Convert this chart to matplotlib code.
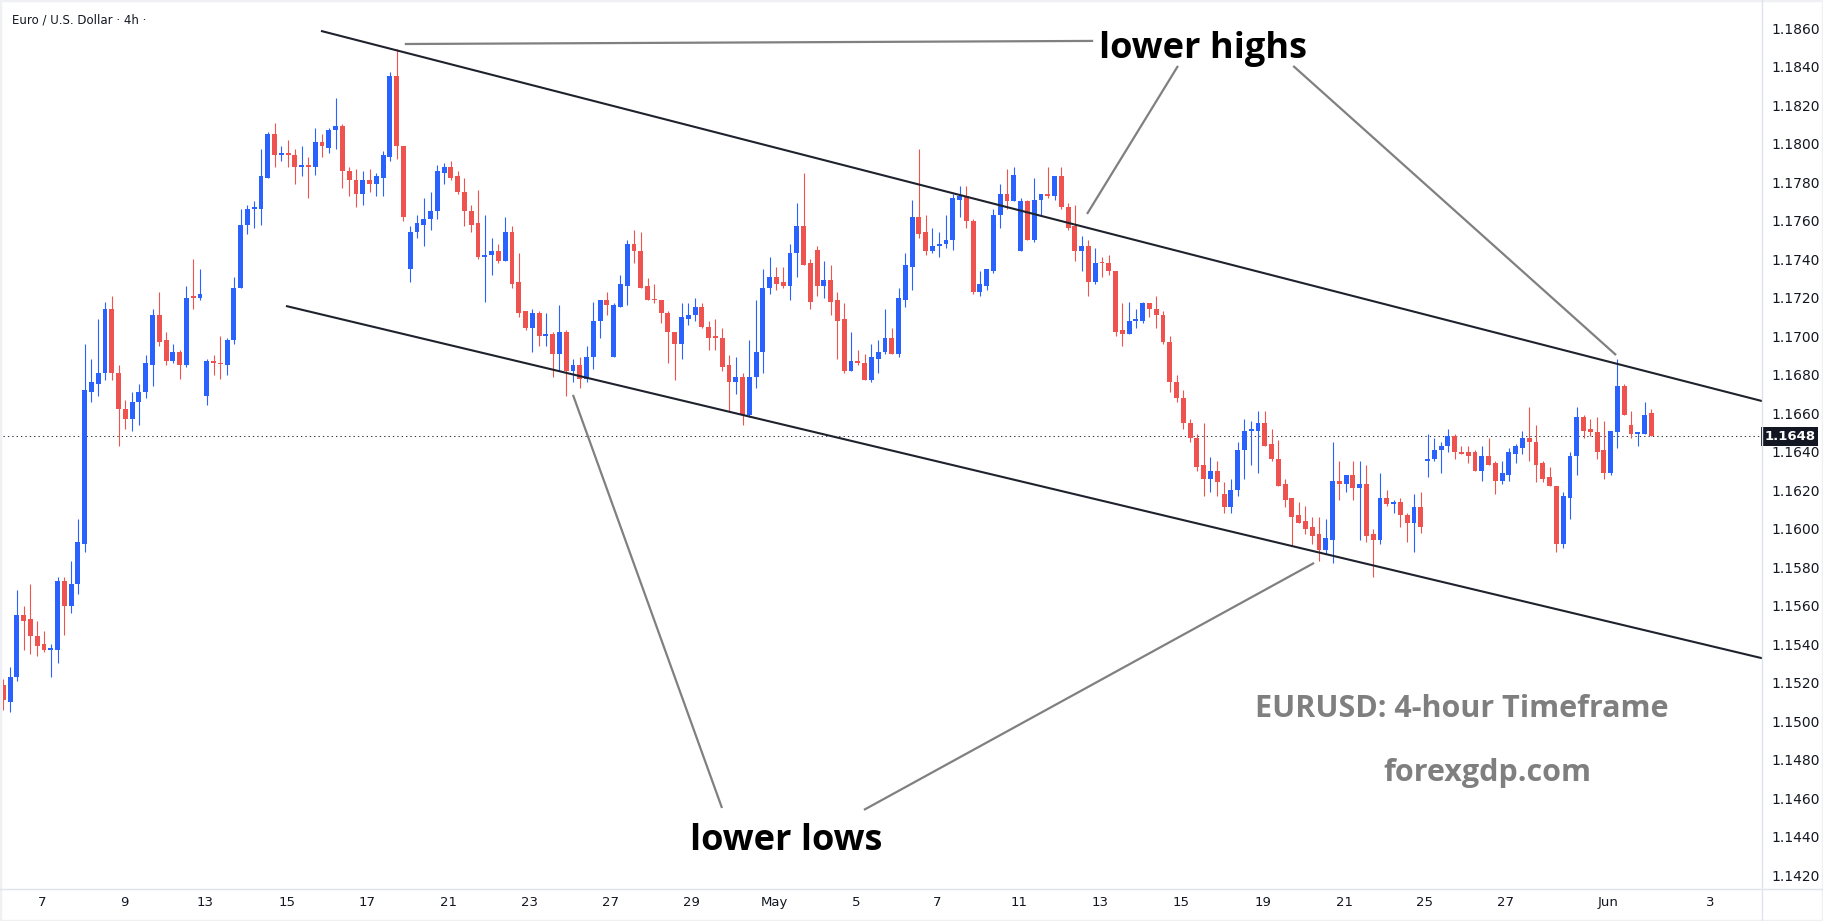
import numpy as np
import matplotlib
matplotlib.use("Agg")
import matplotlib.pyplot as plt
from matplotlib.lines import Line2D
from matplotlib.patches import Rectangle
import matplotlib.transforms as mtransforms

# ---------------- data (EUR/USD, 4h candles) ----------------
opens = [
 1.1519,1.1510,1.1523,1.1555,1.1553,1.1544,1.1540,1.1537,1.1537,1.1573,
 1.1560,1.1571,1.1592,1.1671,1.1675,1.1681,1.1714,1.1681,1.1662,1.1657,
 1.1666,1.1671,1.1685,1.1711,1.1698,1.1687,1.1692,1.1685,1.1721,1.1720,
 1.1669,1.1687,1.16862,1.1685,1.1698,1.1725,1.1758,1.1766,1.1766,1.1782,
 1.1805,1.1794,1.1795,1.1794,1.1788,1.1789,1.1788,1.1801,1.1798,1.1807,
 1.1809,1.1786,1.1781,1.1774,1.1781,1.1779,1.1782,1.1793,1.1835,1.1799,
 1.1735,1.1754,1.1758,1.1761,1.1765,1.1785,1.1788,1.1783,1.1775,1.1765,
 1.1759,1.1741,1.1742,1.1744,1.1739,1.1754,1.1728,1.1713,1.1704,1.1712,
 1.1700,1.1701,1.1691,1.1702,1.1682,1.1685,1.1678,1.1689,1.1708,1.1719,
 1.1689,1.1715,1.1726,1.1748,1.1744,1.1726,1.17192,1.1719,1.1712,1.1702,
 1.1696,1.1709,1.1711,1.1715,1.1705,1.1700,1.1699,1.1685,1.1676,1.1679,
 1.1659,1.1679,1.1692,1.1725,1.1731,1.1728,1.1726,1.1743,1.1757,1.1738,
 1.1745,1.1726,1.1729,1.1719,1.1709,1.1682,1.1687,1.1686,1.1677,1.1688,
 1.1692,1.1699,1.1691,1.1719,1.1736,1.1762,1.1754,1.1744,1.1747,1.1748,
 1.1750,1.1771,1.1773,1.1760,1.1723,1.1726,1.1734,1.1763,1.1774,1.1770,
 1.1744,1.1770,1.1750,1.1771,1.1774,1.1773,1.1783,1.1767,1.1757,1.1744,
 1.1747,1.1728,1.17383,1.1738,1.1734,1.1703,1.1701,1.1708,1.1708,1.1717,
 1.1714,1.1711,1.1697,1.1676,1.1668,1.1655,1.1647,1.1633,1.1626,1.1630,
 1.1618,1.1611,1.1620,1.1641,1.1651,1.1651,1.1655,1.1644,1.1636,1.1623,
 1.1616,1.1607,1.1604,1.1601,1.1597,1.1589,1.1594,1.1625,1.1623,1.1628,
 1.1621,1.1623,1.1597,1.1594,1.1616,1.1613,1.1614,1.1607,1.1603,1.1611,
 1.1635,1.1636,1.1641,1.1643,1.1648,1.1640,1.1640,1.1640,1.1630,1.1638,
 1.1634,1.1625,1.1628,1.1639,1.1642,1.1647,1.1645,1.1634,1.1627,1.1622,
 1.1592,1.1616,1.1638,1.1658,1.1652,1.1650,1.1641,1.1629,1.1650,1.1674,
 1.1654,1.1649,1.1649,1.1660]
highs = [
 1.1522,1.1528,1.1568,1.1560,1.1571,1.1552,1.1547,1.1540,1.1575,1.1575,
 1.1583,1.1605,1.1696,1.1688,1.1709,1.1718,1.1721,1.1685,1.1667,1.1671,
 1.1675,1.1690,1.1714,1.1723,1.1702,1.1696,1.1693,1.1726,1.1740,1.1735,
 1.1688,1.1690,1.1700,1.1699,1.1731,1.1766,1.1768,1.1770,1.1797,1.1806,
 1.1811,1.1799,1.1802,1.1797,1.1799,1.1793,1.1808,1.1805,1.1808,1.1824,
 1.1810,1.1788,1.1787,1.1786,1.1787,1.1785,1.1796,1.1837,1.1849,1.1799,
 1.1757,1.1763,1.1772,1.1775,1.1789,1.1790,1.1791,1.1786,1.1782,1.1768,
 1.1776,1.1763,1.1751,1.1748,1.1762,1.1757,1.1743,1.1713,1.1714,1.1713,
 1.1712,1.1702,1.1716,1.1703,1.1688,1.1689,1.1695,1.1718,1.1719,1.1723,
 1.1717,1.1732,1.1750,1.1755,1.1754,1.1730,1.1727,1.1719,1.1713,1.1702,
 1.1717,1.1717,1.1720,1.1717,1.1708,1.1709,1.1704,1.1690,1.1689,1.1681,
 1.1698,1.1719,1.1735,1.1741,1.1736,1.1736,1.1748,1.1769,1.1785,1.1740,
 1.1747,1.1739,1.1737,1.1723,1.1717,1.1702,1.1693,1.1691,1.1696,1.1698,
 1.1714,1.1704,1.1725,1.1743,1.1771,1.1797,1.1763,1.1756,1.1754,1.1763,
 1.1774,1.1778,1.1778,1.1761,1.1734,1.1735,1.1766,1.1779,1.1787,1.1788,
 1.1772,1.1771,1.1782,1.1774,1.1788,1.1783,1.1788,1.1769,1.1768,1.1752,
 1.1750,1.1746,1.1741,1.1742,1.1734,1.1717,1.1718,1.1714,1.1718,1.1717,
 1.1721,1.1713,1.1700,1.1680,1.1672,1.1657,1.1649,1.1655,1.1637,1.1635,
 1.1624,1.1626,1.1645,1.1657,1.1656,1.1661,1.1661,1.1652,1.1646,1.1626,
 1.1616,1.1614,1.1612,1.1606,1.1606,1.1605,1.1645,1.1635,1.1628,1.1635,
 1.1635,1.1633,1.1600,1.1629,1.1620,1.1615,1.1616,1.1608,1.1618,1.1619,
 1.1649,1.1647,1.1645,1.1652,1.1649,1.1643,1.1643,1.1641,1.1643,1.1647,
 1.1635,1.1635,1.1642,1.1644,1.1651,1.1663,1.1654,1.1635,1.1632,1.1622,
 1.1619,1.1640,1.1663,1.1659,1.1657,1.1658,1.1656,1.1651,1.1688,1.1675,
 1.1661,1.1650,1.1666,1.1662]
lows = [
 1.1506,1.1505,1.1521,1.1537,1.1535,1.1534,1.1536,1.1523,1.1530,1.1545,
 1.1556,1.1566,1.1588,1.1666,1.1669,1.1677,1.1677,1.1643,1.1652,1.1651,
 1.1654,1.1668,1.1674,1.1695,1.1685,1.1686,1.1678,1.1684,1.1714,1.1719,
 1.1664,1.1680,1.1678,1.1680,1.1696,1.1725,1.1753,1.1756,1.1758,1.1782,
 1.1788,1.1791,1.1788,1.1779,1.1783,1.1772,1.1784,1.1793,1.1795,1.1797,
 1.1777,1.1773,1.1767,1.1768,1.1775,1.1773,1.1773,1.1791,1.1792,1.1760,
 1.1728,1.1751,1.1747,1.1755,1.1761,1.1779,1.1781,1.1774,1.1757,1.1754,
 1.1740,1.1718,1.1732,1.1738,1.1739,1.1725,1.1710,1.1703,1.1692,1.1695,
 1.1695,1.1679,1.1682,1.1669,1.1676,1.1673,1.1676,1.1683,1.1699,1.1711,
 1.1689,1.1715,1.1716,1.1738,1.1725,1.1719,1.1717,1.1707,1.1686,1.1677,
 1.1688,1.1706,1.1708,1.1704,1.1693,1.1693,1.1682,1.1661,1.1670,1.1654,
 1.1658,1.1673,1.1681,1.1722,1.1724,1.1725,1.1719,1.1731,1.1737,1.1714,
 1.1721,1.1720,1.1711,1.1688,1.1681,1.1682,1.1685,1.1677,1.1676,1.1681,
 1.1691,1.1691,1.1689,1.1715,1.1724,1.1751,1.1742,1.1743,1.1741,1.1746,
 1.1745,1.1762,1.1756,1.1722,1.1721,1.1724,1.1733,1.1756,1.1766,1.1770,
 1.1744,1.1750,1.1749,1.1763,1.1772,1.1771,1.1766,1.1755,1.1739,1.1734,
 1.1721,1.1727,1.1731,1.1732,1.1700,1.1695,1.1701,1.1704,1.1707,1.1710,
 1.1704,1.1696,1.1671,1.1666,1.1652,1.1645,1.1630,1.1617,1.1619,1.1617,
 1.1608,1.1608,1.1617,1.1626,1.1633,1.1629,1.1643,1.1635,1.1622,1.1611,
 1.1591,1.1603,1.1597,1.1592,1.1583,1.1587,1.1582,1.1615,1.1619,1.1615,
 1.1594,1.1593,1.1575,1.1592,1.1612,1.1608,1.1601,1.1593,1.1588,1.1598,
 1.1627,1.1635,1.1629,1.1640,1.1636,1.1639,1.1634,1.1630,1.1625,1.1633,
 1.1618,1.1623,1.1625,1.1634,1.1639,1.1635,1.1624,1.1624,1.1622,1.1588,
 1.1590,1.1605,1.1628,1.1647,1.1648,1.1636,1.1626,1.1628,1.1642,1.1659,
 1.1647,1.1643,1.1649,1.1648]
closes = [
 1.1511,1.1523,1.1555,1.1552,1.1544,1.1539,1.1537,1.1538,1.1573,1.1560,
 1.1571,1.1593,1.1672,1.1676,1.1681,1.1714,1.1681,1.1662,1.1657,1.1666,
 1.1671,1.1686,1.1711,1.1697,1.1687,1.1692,1.1685,1.1720,1.1720,1.1722,
 1.1687,1.1686,1.16855,1.1698,1.1725,1.1758,1.1766,1.1767,1.1783,1.1805,
 1.1794,1.1795,1.1794,1.1788,1.1789,1.1788,1.1801,1.1799,1.1807,1.1809,
 1.1786,1.1781,1.1774,1.1781,1.1779,1.1783,1.1794,1.1835,1.1799,1.1762,
 1.1754,1.1759,1.1761,1.1765,1.1786,1.1788,1.1782,1.1775,1.1765,1.1758,
 1.1741,1.1742,1.1744,1.1739,1.1754,1.1727,1.1712,1.1704,1.1712,1.1700,
 1.1701,1.1691,1.1702,1.1682,1.1685,1.1678,1.1689,1.1708,1.1719,1.1716,
 1.1716,1.1727,1.1748,1.1744,1.1725,1.1719,1.17188,1.1712,1.1702,1.1696,
 1.1710,1.1711,1.1715,1.1705,1.1699,1.1699,1.1684,1.1676,1.1679,1.1659,
 1.1679,1.1692,1.1725,1.1731,1.1727,1.1726,1.1743,1.1757,1.1737,1.1718,
 1.1726,1.1729,1.1718,1.1708,1.1682,1.1687,1.1686,1.1677,1.1689,1.1692,
 1.1699,1.1691,1.1720,1.1737,1.1762,1.1753,1.1744,1.1747,1.1748,1.1750,
 1.1772,1.1773,1.1760,1.1723,1.1727,1.1735,1.1763,1.1774,1.1770,1.1784,
 1.1770,1.1750,1.1771,1.1774,1.1773,1.1783,1.1767,1.1756,1.1744,1.1747,
 1.1728,1.1738,1.17378,1.1734,1.1702,1.1701,1.1708,1.1709,1.1717,1.1714,
 1.1711,1.1697,1.1676,1.1668,1.1655,1.1647,1.1632,1.1626,1.1630,1.1624,
 1.1611,1.1620,1.1641,1.1651,1.1652,1.1655,1.1643,1.1636,1.1622,1.1615,
 1.1606,1.1603,1.1600,1.1596,1.1589,1.1595,1.1625,1.1623,1.1628,1.1621,
 1.1623,1.1596,1.1594,1.1616,1.1613,1.1614,1.1607,1.1603,1.1611,1.1601,
 1.1636,1.1641,1.1643,1.1648,1.1640,1.1639,1.1638,1.1630,1.1638,1.1633,
 1.1625,1.1629,1.1640,1.1643,1.1647,1.1645,1.1633,1.1626,1.1622,1.1592,
 1.1617,1.1638,1.1658,1.1651,1.1650,1.1640,1.1629,1.1651,1.1674,1.1659,
 1.1649,1.1650,1.1659,1.1648]

last_price = 1.1648

x_tick_pos = [5.7, 17.8, 29.7, 41.8, 53.7, 65.6, 77.6, 89.6, 101.5, 113.7,
              125.7, 137.7, 149.7, 161.7, 173.7, 185.7, 197.7, 209.5, 221.5,
              236.6, 251.7]
x_tick_labels = ["7", "9", "13", "15", "17", "21", "23", "27", "29", "May",
                 "5", "7", "11", "13", "15", "19", "21", "25", "27", "Jun", "3"]
y_ticks = [1.1420, 1.1440, 1.1460, 1.1480, 1.1500, 1.1520, 1.1540, 1.1560,
           1.1580, 1.1600, 1.1620, 1.1640, 1.1660, 1.1680, 1.1700, 1.1720,
           1.1740, 1.1760, 1.1780, 1.1800, 1.1820, 1.1840, 1.1860]

# trend channel (candle index, price)
upper_channel_x = [46.84, 259.32]
upper_channel_y = [1.18586, 1.16663]
lower_channel_x = [41.68, 259.32]
lower_channel_y = [1.17157, 1.15327]

# annotation pointer lines (candle index, price)
pointer_lines = [
    ([59.2, 160.7], [1.18518, 1.18534]),
    ([173.2, 159.8], [1.18404, 1.17635]),
    ([190.2, 237.8], [1.18404, 1.16902]),
    ([105.97, 84.0], [1.14549, 1.16695]),
    ([126.9, 193.27], [1.14539, 1.15822]),
]
labels_dark = [("lower highs", 176.9, 1.18445), ("lower lows", 115.5, 1.14331)]
labels_gray = [("EURUSD: 4-hour Timeframe", 215.1, 1.15022),
               ("forexgdp.com", 218.8, 1.14689)]

# ---------------- drawing ----------------
BLUE = "#2962FF"
RED = "#EF5350"
TXT = "#131722"

W, H = 1823, 921
fig = plt.figure(figsize=(W / 100, H / 100), dpi=100)
fig.patch.set_facecolor("white")
ax_l, ax_r, ax_t, ax_b = 3, 1762, 3, 889
ax = fig.add_axes([ax_l / W, 1 - ax_b / H, (ax_r - ax_l) / W, (ax_b - ax_t) / H])

o = np.array(opens); h = np.array(highs); l = np.array(lows); c = np.array(closes)
n = len(o)
xs = np.arange(n)
up = c >= o
cols = np.where(up, BLUE, RED)

ax.vlines(xs, l, h, colors=cols, linewidth=0.8, zorder=3)
body_bot = np.minimum(o, c)
body_h = np.maximum(np.abs(c - o), 0.00004)
ax.bar(xs, body_h, bottom=body_bot, width=0.72, color=cols, linewidth=0, zorder=4)

ax.set_xlim((ax_l - 3.3) / 6.782, (ax_r - 3.3) / 6.782)
ax.set_ylim(1.14128, 1.18731)

# current price dotted line
ax.axhline(last_price, color="#363a45", linewidth=0.75, linestyle=(0, (1.3, 2.9)), zorder=2)

# channel lines
ax.plot(upper_channel_x, upper_channel_y, color="#1e222d", linewidth=1.5, zorder=5,
        solid_capstyle="butt")
ax.plot(lower_channel_x, lower_channel_y, color="#1e222d", linewidth=1.5, zorder=5,
        solid_capstyle="butt")
for px, py in pointer_lines:
    ax.plot(px, py, color="#808080", linewidth=1.6, zorder=5, solid_capstyle="butt")

for s, x, y in labels_dark:
    ax.text(x, y, s, ha="center", va="baseline", fontsize=26, fontweight="bold",
            family="Open Sans", color="#000000", zorder=6)
for s, x, y in labels_gray:
    ax.text(x, y, s, ha="center", va="baseline", fontsize=22, fontweight="bold",
            family="Open Sans", color="#7f7f7f", zorder=6)

# axes styling
ax.yaxis.tick_right()
ax.set_yticks(y_ticks)
ax.set_yticklabels(["%.4f" % v for v in y_ticks])
ax.set_xticks(x_tick_pos)
ax.set_xticklabels(x_tick_labels)
ax.tick_params(axis="y", length=0, pad=7, labelsize=10, labelcolor=TXT)
ax.tick_params(axis="x", length=0, pad=5, labelsize=9.5, labelcolor=TXT)
for sp in ax.spines.values():
    sp.set_visible(False)
ax.set_facecolor("white")

# last price label
trans = mtransforms.blended_transform_factory(ax.transAxes, ax.transData)
ax.text(1.0012, last_price, "1.1648", transform=trans, ha="left", va="center",
        fontsize=9.5, fontweight="bold", color="white", zorder=10, clip_on=False,
        bbox=dict(boxstyle="square,pad=0.22", fc=TXT, ec="none"))

# separators and frame
sep = "#e0e3eb"
fig.add_artist(Line2D([ax_r / W, ax_r / W], [0, 1], color=sep, linewidth=1.0))
fig.add_artist(Line2D([0, 1], [1 - ax_b / H, 1 - ax_b / H], color=sep, linewidth=1.0))
fig.add_artist(Rectangle((0, 0), 1, 1, transform=fig.transFigure, fill=False,
                         edgecolor="#eef0f4", linewidth=2.5))

fig.text(12 / W, 1 - 20 / H, "Euro / U.S. Dollar · 4h ·", fontsize=8.5, color=TXT,
         ha="left", va="center")

fig.savefig("out.png", dpi=100, facecolor="white")
